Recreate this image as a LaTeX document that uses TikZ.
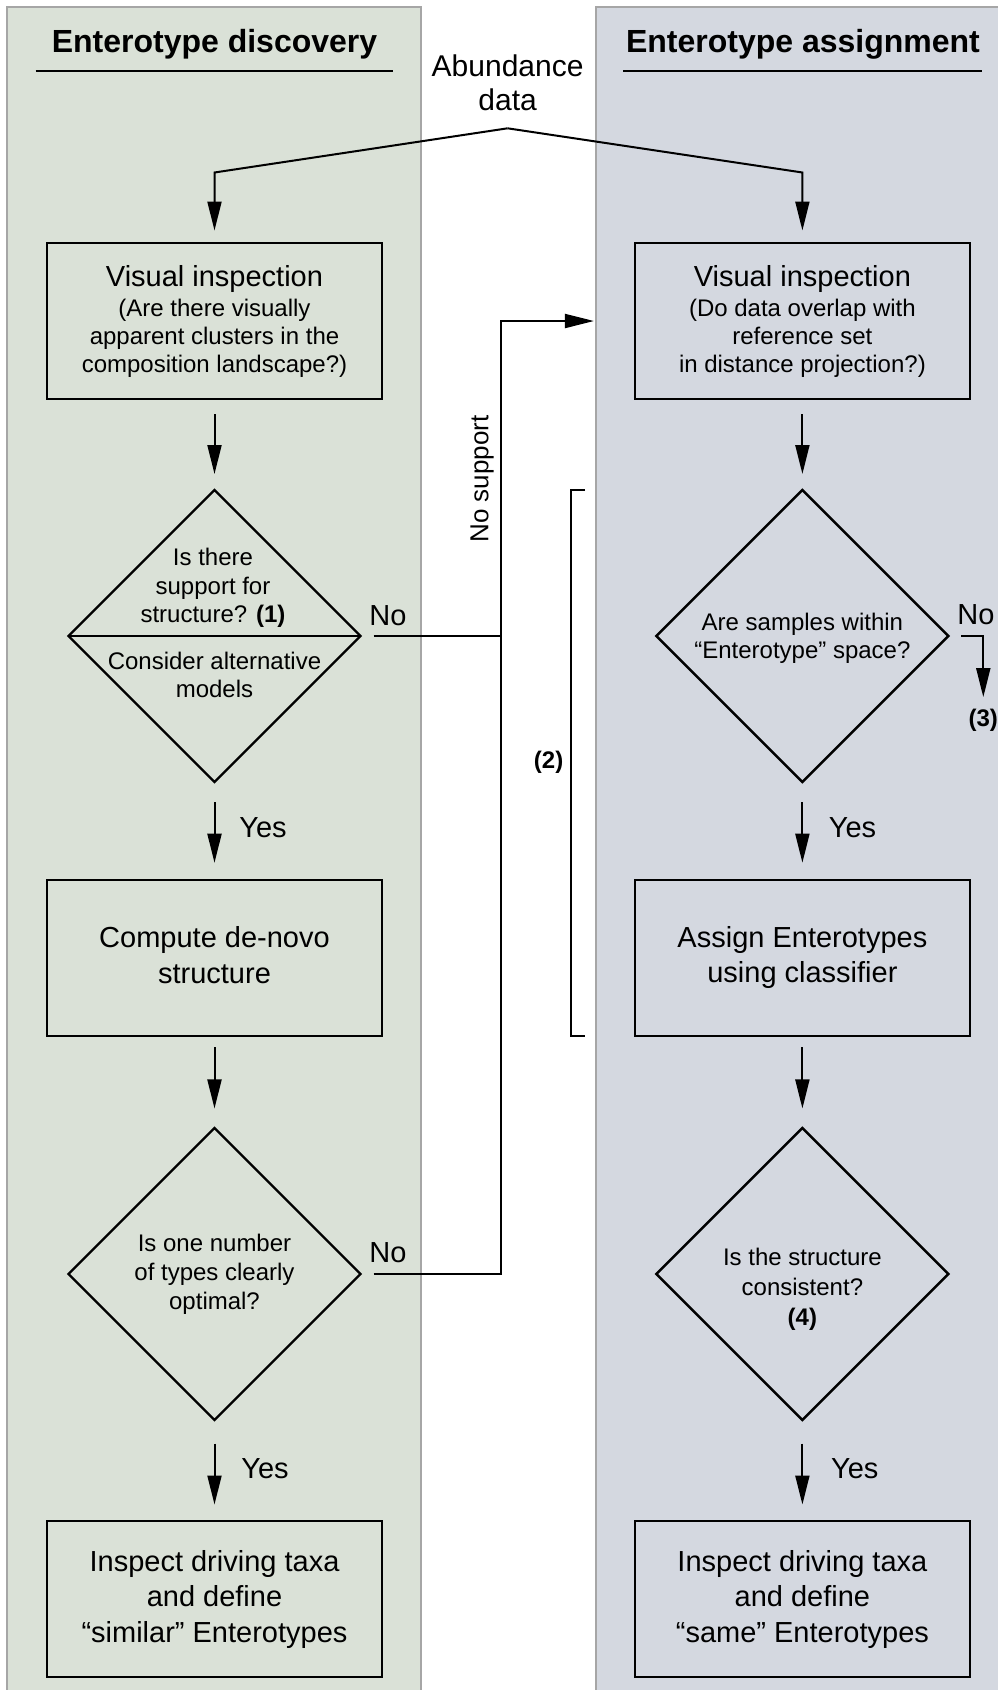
\documentclass[tikz,border=0pt]{standalone}
\usepackage{fontspec}
\setmainfont{Liberation Sans}
\usetikzlibrary{arrows.meta,shapes.geometric}
\definecolor{leftbg}{RGB}{218,225,215}
\definecolor{rightbg}{RGB}{212,216,224}
\definecolor{panelborder}{RGB}{166,166,166}
\begin{document}
\begin{tikzpicture}[x=1pt,y=-1pt,
  panel/.style={draw=panelborder, line width=2pt},
  box/.style={draw, line width=2.3pt, minimum width=335pt, minimum height=156pt, align=center, inner sep=0pt, outer sep=0pt, font=\fontsize{29}{35.5}\selectfont},
  dec/.style={draw, diamond, aspect=1, line width=2.4pt, minimum width=292pt, minimum height=292pt, inner sep=0pt, outer sep=0pt},
  qtext/.style={align=center, inner sep=0pt, font=\fontsize{24}{28.5}\selectfont},
  lbl/.style={inner sep=0pt, font=\fontsize{29}{34}\selectfont},
  bnum/.style={inner sep=0pt, font=\bfseries\fontsize{24}{28}\selectfont},
  conn/.style={line width=2pt},
  arr/.style={conn, -{Triangle[length=29pt,width=14pt]}},
  titlestyle/.style={inner sep=0pt, font=\bfseries\fontsize{32}{38}\selectfont},
]
\useasboundingbox (0,0) rectangle (998,1690);
\begin{scope}
\clip (0,0) rectangle (998,1690);
\fill[white] (0,0) rectangle (998,1690);
\draw[panel, fill=leftbg] (7,7) rectangle (421,1700);
\draw[panel, fill=rightbg] (596,7) rectangle (1010,1700);
\end{scope}

% titles
\node[titlestyle, anchor=base] (t1) at (214.5,52) {Enterotype discovery};
\node[titlestyle, anchor=base] (t2) at (803,52) {Enterotype assignment};
\draw[line width=2.3pt] (35.6,71) -- (393,71);
\draw[line width=2.3pt] (623,71) -- (982,71);

% abundance data
\node[lbl, align=center, font=\fontsize{30}{34.5}\selectfont] (ab) at (507.6,83) {Abundance\\data};
\coordinate (apex) at (507.6,128.3);
\coordinate (cl) at (214.5,172.5);
\coordinate (cr) at (802.4,172.5);

% left column
\node[box, font=\fontsize{24}{28}\selectfont] (b1l) at (214.5,321) {{\fontsize{29}{30}\selectfont Visual inspection}\\[2pt](Are there visually\\apparent clusters in the\\composition landscape?)};
\node[dec] (d1) at (214.5,636) {};
\draw[line width=2.3pt] (d1.west) -- (d1.east);
\node[qtext] (q1a) at (213,588) {Is there\\support for\\structure? \textbf{(1)}};
\node[qtext, font=\fontsize{24}{28}\selectfont] (q1b) at (214.5,674.5) {Consider alternative\\models};
\node[box] (b2l) at (214.5,957.7) {};
\node[align=center, inner sep=0pt, font=\fontsize{29}{35.5}\selectfont] (b2lt) at (214.5,955) {Compute de-novo\\structure};
\node[dec] (d2) at (214.5,1274) {};
\node[qtext, font=\fontsize{24}{28.7}\selectfont] (q2) at (214.5,1274.3) {Is one number\\of types clearly\\optimal?};
\node[box] (b3l) at (214.5,1599) {Inspect driving taxa\\and define\\“similar” Enterotypes};

% right column
\node[box, font=\fontsize{24}{28}\selectfont] (b1r) at (802.4,321) {{\fontsize{29}{30}\selectfont Visual inspection}\\[2pt](Do data overlap with\\reference set\\in distance projection?)};
\node[dec] (d3) at (802.4,636) {};
\node[qtext, font=\fontsize{24}{28.3}\selectfont] (q3) at (802.4,638.5) {Are samples within\\“Enterotype” space?};
\node[box] (b2r) at (802.4,957.7) {Assign Enterotypes\\using classifier};
\node[dec] (d4) at (802.4,1274) {};
\node[qtext, font=\fontsize{24}{30}\selectfont] (q4) at (802.4,1289.5) {Is the structure\\consistent?\\\textbf{(4)}};
\node[box] (b3r) at (802.4,1599) {Inspect driving taxa\\and define\\“same” Enterotypes};

% labels
\node[lbl] (no1) at (388,616) {No};
\node[lbl] (no2) at (388,1252.4) {No};
\node[lbl] (no3) at (976,615) {No};
\node[lbl] (y1) at (263,828) {Yes};
\node[lbl] (y2) at (852.5,828) {Yes};
\node[lbl] (y3) at (265,1469) {Yes};
\node[lbl] (y4) at (854.7,1469) {Yes};
\node[lbl, rotate=90, font=\fontsize{26}{30}\selectfont] (ns) at (482,479) {No support};
\node[bnum] (n2) at (548.6,762) {(2)};
\node[bnum] (n3) at (983.3,720) {(3)};

% connectors
\draw[arr, shorten >=12.5pt] (apex) -- (cl) -- (b1l.north);
\draw[arr, shorten >=12.5pt] (apex) -- (cr) -- (b1r.north);

\draw[arr, shorten <=15pt, shorten >=16pt] (b1l) -- (d1);
\draw[arr, shorten <=20pt, shorten >=17pt] (d1) -- (b2l);
\draw[arr, shorten <=11.5pt, shorten >=19.5pt] (b2l) -- (d2);
\draw[arr, shorten <=23.5pt, shorten >=16.5pt] (d2) -- (b3l);

\draw[arr, shorten <=15pt, shorten >=16pt] (b1r) -- (d3);
\draw[arr, shorten <=20pt, shorten >=17pt] (d3) -- (b2r);
\draw[arr, shorten <=11.5pt, shorten >=19.5pt] (b2r) -- (d4);
\draw[arr, shorten <=23.5pt, shorten >=16.5pt] (d4) -- (b3r);

\coordinate (j1) at (501,636);
\coordinate (j2) at (501,1274);
\draw[conn, shorten <=13pt] (d1.east) -- (j1);
\draw[arr, shorten <=13pt, shorten >=41pt] (d2.east) -- (j2) -- (j1) |- (b1r.west);
\draw[arr, shorten <=13pt, shorten >=11.5pt] (d3.east) -| (n3.north);

% bracket (2)
\draw[line width=2pt] (585,490) -- (571,490) -- (571,1036) -- (585,1036);
\end{tikzpicture}
\end{document}
